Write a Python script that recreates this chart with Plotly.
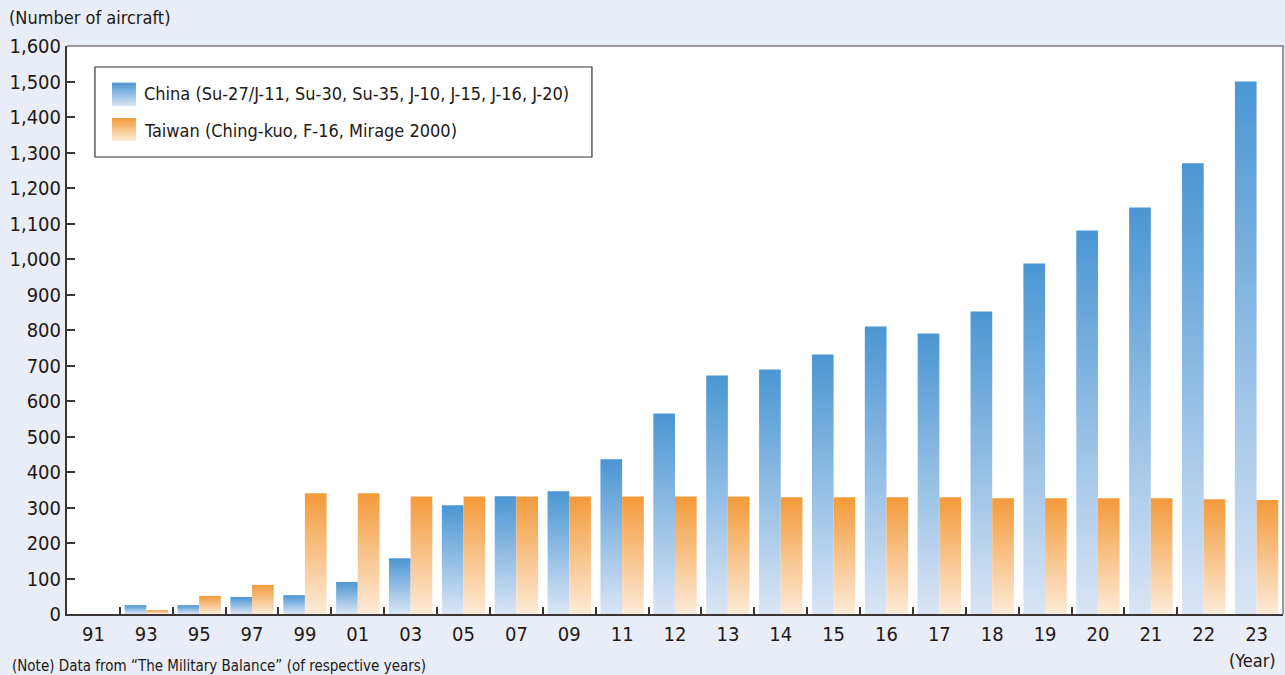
import plotly.graph_objects as go

# Fighter inventories (4th/5th generation) by year
years = ["91", "93", "95", "97", "99", "01", "03", "05", "07", "09", "11",
         "12", "13", "14", "15", "16", "17", "18", "19", "20", "21", "22", "23"]
china = [0, 25, 25, 48, 53, 90, 157, 306, 332, 346, 436,
         565, 672, 689, 731, 810, 790, 852, 987, 1080, 1145, 1270, 1500]
taiwan = [0, 11, 51, 82, 340, 340, 331, 331, 331, 331, 331,
          331, 331, 329, 329, 329, 329, 326, 326, 326, 326, 323, 321]

china_name = "China (Su-27/J-11, Su-30, Su-35, J-10, J-15, J-16, J-20)"
taiwan_name = "Taiwan (Ching-kuo, F-16, Mirage 2000)"

y_ticks = list(range(0, 1601, 100))

FONT = "Liberation Sans Narrow, DejaVu Sans Condensed, Arial Narrow, sans-serif"
INK = "#231815"
BG = "#E9EDF8"
CHINA_SCALE = [[0, "#DAE5F5"], [1, "#4A96D3"]]
TAIWAN_SCALE = [[0, "#FDEBD8"], [1, "#F39A3A"]]
BAR_W = 0.41

fig = go.Figure()


def add_bar(i, value, left, scale):
    """One bar as a filled outline so it can carry a vertical gradient."""
    if value <= 0:
        return
    x0 = i - BAR_W if left else i
    x1 = x0 + BAR_W
    fig.add_trace(go.Scatter(
        x=[x0, x0, x1, x1, x0], y=[0, value, value, 0, 0],
        mode="none", fill="toself",
        fillgradient=dict(type="vertical", colorscale=scale, start=0, stop=value),
        showlegend=False, hoverinfo="skip",
    ))


for i, (c, t) in enumerate(zip(china, taiwan)):
    add_bar(i, c, True, CHINA_SCALE)
    add_bar(i, t, False, TAIWAN_SCALE)

# legend swatches, placed on a 0..1 overlay of the plot area
swatches = [(0.9355, 0.8945, CHINA_SCALE), (0.8733, 0.8327, TAIWAN_SCALE)]
for top, bottom, scale in swatches:
    fig.add_trace(go.Scatter(
        x=[0.037, 0.037, 0.0567, 0.0567, 0.037], y=[bottom, top, top, bottom, bottom],
        xaxis="x2", yaxis="y2", mode="none", fill="toself",
        fillgradient=dict(type="vertical", colorscale=scale),
        showlegend=False, hoverinfo="skip",
    ))

n = len(years)
fig.update_layout(
    width=1285, height=675,
    margin=dict(l=67, r=2, t=46, b=61),
    paper_bgcolor=BG, plot_bgcolor="white",
    font=dict(family=FONT, color=INK, size=20),
    showlegend=False,
    xaxis=dict(
        range=[-0.5, n - 0.5], showgrid=False, zeroline=False,
        showline=True, linecolor="#3a3434", linewidth=2,
        tickmode="array", tickvals=list(range(n)), ticktext=years,
        ticks="", ticklabelstandoff=1,
        tickfont=dict(size=20, family=FONT, color=INK),
        minor=dict(tickmode="array", tickvals=[k + 0.5 for k in range(n - 2)],
                   ticks="inside", ticklen=7, tickwidth=1.5, tickcolor="#3a3434",
                   showgrid=False),
        fixedrange=True,
    ),
    yaxis=dict(
        range=[0, 1600], showgrid=False, zeroline=False,
        showline=True, linecolor="#3a3434", linewidth=2,
        tickmode="array", tickvals=y_ticks,
        ticktext=[f"{v:,}" for v in y_ticks],
        ticks="inside", ticklen=8, tickwidth=1.5, tickcolor="#3a3434",
        tickfont=dict(size=20, family=FONT, color=INK),
        fixedrange=True,
    ),
    xaxis2=dict(overlaying="x", range=[0, 1], visible=False, fixedrange=True),
    yaxis2=dict(overlaying="y", range=[0, 1], visible=False, fixedrange=True),
    shapes=[
        # top and right frame of the plot area
        dict(type="path", xref="paper", yref="paper",
             path="M 0,1 L 1,1 L 1,0", line=dict(color="#7d797d", width=1.5)),
        # legend box
        dict(type="rect", xref="paper", yref="paper",
             x0=0.023, x1=0.4317, y0=0.8046, y1=0.963,
             line=dict(color="#3a3434", width=1.2), fillcolor="white", layer="below"),
    ],
    annotations=[
        dict(text="(Number of aircraft)", xref="paper", yref="paper",
             x=-0.0493, y=1.051, xanchor="left", yanchor="middle",
             showarrow=False, font=dict(size=18, family=FONT, color=INK)),
        dict(text=china_name, xref="paper", yref="paper",
             x=0.0617, y=0.9155, xanchor="left", yanchor="middle",
             showarrow=False, font=dict(size=18, family=FONT, color=INK)),
        dict(text=taiwan_name, xref="paper", yref="paper",
             x=0.0617, y=0.852, xanchor="left", yanchor="middle",
             showarrow=False, font=dict(size=18, family=FONT, color=INK)),
        dict(text="(Year)", xref="paper", yref="paper",
             x=0.975, y=-0.082, xanchor="center", yanchor="middle",
             showarrow=False, font=dict(size=18, family=FONT, color=INK)),
        dict(text="(Note) Data from \u201cThe Military Balance\u201d (of respective years)",
             xref="paper", yref="paper", x=-0.0469, y=-0.0915, xanchor="left",
             yanchor="middle", showarrow=False,
             font=dict(size=15, family=FONT, color=INK)),
    ],
)

fig.write_html("out.html", config={"displayModeBar": False})
